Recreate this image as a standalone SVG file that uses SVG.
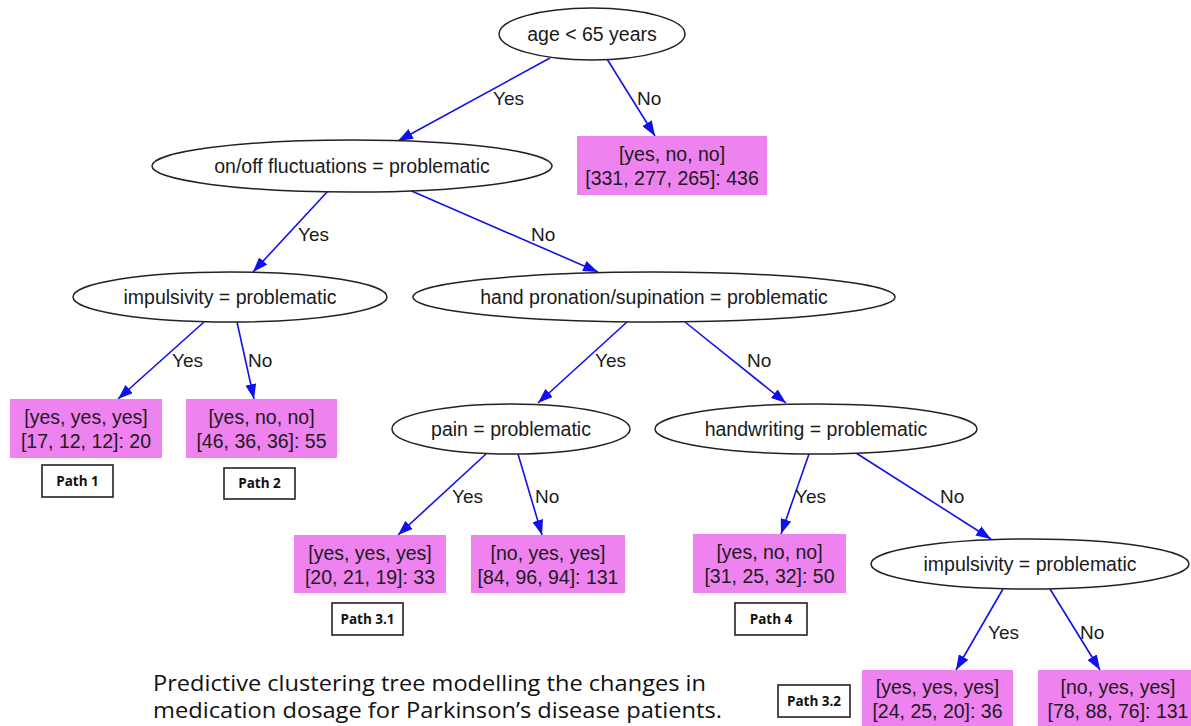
<svg xmlns="http://www.w3.org/2000/svg" width="1191" height="726" viewBox="0 0 1191 726">
<style>
.n ellipse{fill:#fff;stroke:#222;stroke-width:1.5}
.n text,.l text{font-family:"Liberation Sans",Arial,sans-serif;font-size:19.5px;fill:#1a1a1a;text-anchor:middle}
.l rect{fill:#ee82ee;stroke:none}
.p rect{fill:#fff;stroke:#222;stroke-width:1.6}
.p text{font-family:"Open Sans","Liberation Sans",sans-serif;font-size:13.5px;font-weight:bold;fill:#111;text-anchor:middle}
#edges line{stroke:#1010ee;stroke-width:1.6;marker-end:url(#ah)}
#edges text{font-family:"Liberation Sans",Arial,sans-serif;font-size:19px;fill:#1a1a1a}
.cap{font-family:"Open Sans","Liberation Sans",sans-serif;font-size:22px;fill:#111}
</style>
<defs>
<marker id="ah" viewBox="0 0 15 11" refX="15" refY="5.5" markerWidth="15" markerHeight="11" markerUnits="userSpaceOnUse" orient="auto">
<path d="M0,0 L15,5.5 L0,11 z" fill="#1010ee"/>
</marker>
</defs>
<rect width="1191" height="726" fill="#fff"/>

<g id="edges">
<line x1="550" y1="58" x2="398" y2="141"/>
<line x1="607" y1="59" x2="655" y2="136"/>
<line x1="328" y1="191" x2="253" y2="272"/>
<line x1="407" y1="189" x2="598" y2="272"/>
<line x1="204" y1="322" x2="118" y2="399"/>
<line x1="237" y1="322" x2="254" y2="399"/>
<line x1="627" y1="322" x2="538" y2="403"/>
<line x1="685" y1="322" x2="786" y2="403"/>
<line x1="486" y1="454" x2="398" y2="535"/>
<line x1="518" y1="454" x2="542" y2="535"/>
<line x1="809" y1="454" x2="781" y2="534"/>
<line x1="856" y1="453" x2="991" y2="539"/>
<line x1="1003" y1="589" x2="956" y2="670"/>
<line x1="1050" y1="589" x2="1100" y2="670"/>
<text x="493" y="105">Yes</text>
<text x="637" y="105">No</text>
<text x="298" y="241">Yes</text>
<text x="531" y="241">No</text>
<text x="172" y="367">Yes</text>
<text x="248" y="367">No</text>
<text x="595" y="367">Yes</text>
<text x="747" y="367">No</text>
<text x="452" y="503">Yes</text>
<text x="535" y="503">No</text>
<text x="795" y="503">Yes</text>
<text x="940" y="503">No</text>
<text x="988" y="639">Yes</text>
<text x="1080" y="639">No</text>
</g>

<g id="n_root" class="n"><ellipse cx="592" cy="34" rx="93" ry="26"/><text x="592" y="41">age &lt; 65 years</text></g>
<g id="n_onoff" class="n"><ellipse cx="352" cy="166" rx="200" ry="26"/><text x="352" y="173">on/off fluctuations = problematic</text></g>
<g id="n_imp1" class="n"><ellipse cx="230" cy="297" rx="157" ry="25"/><text x="230" y="304">impulsivity = problematic</text></g>
<g id="n_hand" class="n"><ellipse cx="654" cy="297" rx="241" ry="25"/><text x="654" y="304">hand pronation/supination = problematic</text></g>
<g id="n_pain" class="n"><ellipse cx="511" cy="429" rx="119" ry="25"/><text x="511" y="436">pain = problematic</text></g>
<g id="n_handw" class="n"><ellipse cx="816" cy="429" rx="161" ry="25"/><text x="816" y="436">handwriting = problematic</text></g>
<g id="n_imp2" class="n"><ellipse cx="1030" cy="564" rx="159" ry="25"/><text x="1030" y="571">impulsivity = problematic</text></g>

<g id="leaf_436" class="l"><rect x="577" y="136" width="190" height="59"/><text x="672" y="161">[yes, no, no]</text><text x="672" y="185">[331, 277, 265]: 436</text></g>
<g id="leaf_20" class="l"><rect x="10" y="399" width="152" height="59"/><text x="86" y="424">[yes, yes, yes]</text><text x="86" y="448">[17, 12, 12]: 20</text></g>
<g id="leaf_55" class="l"><rect x="186" y="399" width="151" height="59"/><text x="261.5" y="424">[yes, no, no]</text><text x="261.5" y="448">[46, 36, 36]: 55</text></g>
<g id="leaf_33" class="l"><rect x="294" y="535" width="152" height="58"/><text x="370" y="560">[yes, yes, yes]</text><text x="370" y="584">[20, 21, 19]: 33</text></g>
<g id="leaf_131a" class="l"><rect x="471" y="535" width="154" height="58"/><text x="548" y="560">[no, yes, yes]</text><text x="548" y="584">[84, 96, 94]: 131</text></g>
<g id="leaf_50" class="l"><rect x="693" y="534" width="153" height="59"/><text x="769.5" y="559">[yes, no, no]</text><text x="769.5" y="583">[31, 25, 32]: 50</text></g>
<g id="leaf_36" class="l"><rect x="862" y="670" width="151" height="59"/><text x="937.5" y="694">[yes, yes, yes]</text><text x="937.5" y="718">[24, 25, 20]: 36</text></g>
<g id="leaf_131b" class="l"><rect x="1038" y="670" width="160" height="59"/><text x="1118" y="694">[no, yes, yes]</text><text x="1118" y="718">[78, 88, 76]: 131</text></g>

<g id="path1" class="p"><rect x="42" y="465" width="71" height="32"/><text x="77.5" y="486">Path 1</text></g>
<g id="path2" class="p"><rect x="224" y="468" width="71" height="31"/><text x="259.5" y="488">Path 2</text></g>
<g id="path31" class="p"><rect x="332" y="603" width="71" height="32"/><text x="367.5" y="624">Path 3.1</text></g>
<g id="path4" class="p"><rect x="735" y="603" width="72" height="32"/><text x="771" y="624">Path 4</text></g>
<g id="path32" class="p"><rect x="778" y="685" width="72" height="32"/><text x="814" y="706">Path 3.2</text></g>

<g id="caption">
<text class="cap" x="153" y="691" textLength="553" lengthAdjust="spacingAndGlyphs">Predictive clustering tree modelling the changes in</text>
<text class="cap" x="153" y="718" textLength="569" lengthAdjust="spacingAndGlyphs">medication dosage for Parkinson’s disease patients.</text>
</g>
</svg>
